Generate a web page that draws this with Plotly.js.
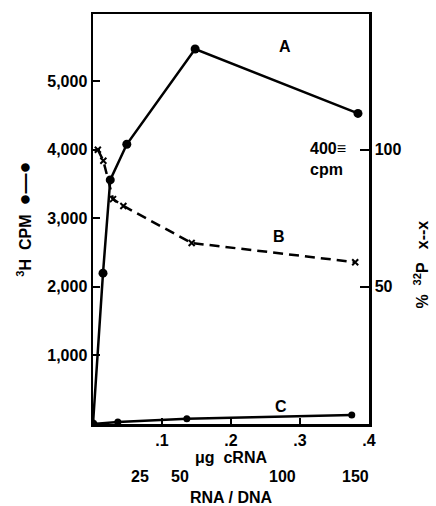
<!DOCTYPE html>
<html>
<head>
<meta charset="utf-8">
<script src="https://cdn.plot.ly/plotly-3.0.1.min.js"></script>
<style>html,body{margin:0;padding:0;background:#fff;}#chart{width:436px;height:506px;}</style>
</head>
<body>
<div id="chart"></div>
<script>
// Curve A: 3H CPM (left axis)
const aX = [0, 0.0145, 0.025, 0.049, 0.148, 0.384];
const aY = [0, 2200, 3560, 4080, 5470, 4530];
// Curve B: % 32P (right axis)
const bX = [0.007, 0.015, 0.029, 0.044, 0.143, 0.38];
const bY = [100, 96, 82, 79.5, 66, 59];
// Curve C: 3H CPM (left axis)
const cX = [0, 0.036, 0.136, 0.375];
const cY = [0, 30, 75, 130];
// axis ticks
const xTickVals = [0.1, 0.2, 0.3, 0.4];
const xTickText = ['.1', '.2', '.3', '.4'];
const yTickVals = [1000, 2000, 3000, 4000, 5000];
const yTickText = ['1,000', '2,000', '3,000', '4,000', '5,000'];
const y2TickVals = [50, 100];
const y2TickText = ['50', '100'];
// RNA/DNA ratio scale
const ratioText = ['25', '50', '100', '150'];
const ratioPos = [0.068, 0.126, 0.274, 0.38];
// curve labels
const curveLabels = ['A', 'B', 'C'];
const curveLabelX = [0.278, 0.270, 0.272];
const curveLabelY = [5500, 2730, 250];

const FONT = 'Liberation Sans, Arial, sans-serif';
const fnt = {family: FONT, size: 16, color: '#000'};

const traces = [
  {x: aX, y: aY, type: 'scatter', mode: 'lines+markers', name: 'A',
   line: {color: '#000', width: 2.5}, marker: {color: '#000', size: 9, symbol: 'circle'}},
  {x: bX, y: bY, yaxis: 'y2', type: 'scatter', mode: 'lines+markers', name: 'B',
   line: {color: '#000', width: 2.5, dash: '10px,6px'}, marker: {color: '#000', size: 6, symbol: 'x-thin', line: {width: 2, color: '#000'}}},
  {x: cX, y: cY, type: 'scatter', mode: 'lines+markers', name: 'C',
   line: {color: '#000', width: 2.5}, marker: {color: '#000', size: 7, symbol: 'circle'}}
];

const annotations = [];
ratioText.forEach((t, i) => annotations.push({
  x: ratioPos[i], xref: 'x', y: -0.128, yref: 'paper', yanchor: 'middle', text: '<b>' + t + '</b>',
  showarrow: false, font: fnt
}));
annotations.push({x: 0.5, xref: 'paper', y: -0.18, yref: 'paper', yanchor: 'middle', text: '<b>RNA / DNA</b>', showarrow: false, font: fnt});
curveLabels.forEach((t, i) => annotations.push({
  x: curveLabelX[i], y: curveLabelY[i], xref: 'x', yref: 'y', text: '<b>' + t + '</b>', showarrow: false, font: fnt
}));
annotations.push({x: 0.34, xref: 'x', y: 3860, yref: 'y', xanchor: 'center', yanchor: 'middle',
  text: '<b>400\u2261<br>cpm</b>', showarrow: false, align: 'left', font: {family: FONT, size: 16, color: '#000'}});
// right axis title, placed as in the reference
annotations.push({x: 1.19, xref: 'paper', y: 0.39, yref: 'paper', xanchor: 'center', yanchor: 'middle',
  textangle: -90, text: '<b>%  <sup>32</sup>P   x--x</b>', showarrow: false, font: fnt});

const layout = {
  width: 436, height: 506,
  margin: {l: 93, r: 67, t: 14, b: 82},
  paper_bgcolor: '#fff', plot_bgcolor: '#fff',
  showlegend: false,
  font: fnt,
  xaxis: {
    range: [0, 0.4], tickvals: xTickVals, ticktext: xTickText.map(t => '<b>' + t + '</b>'),
    ticks: 'inside', ticklen: 6, tickwidth: 2, tickcolor: '#000',
    showline: true, linewidth: 2.5, linecolor: '#000', mirror: true, showgrid: false, zeroline: false,
    tickfont: fnt,
    title: {text: '<b>\u03bcg  cRNA</b>', font: fnt, standoff: 4}
  },
  yaxis: {
    range: [0, 5980], tickvals: yTickVals, ticktext: yTickText.map(t => '<b>' + t + '</b>'),
    ticks: 'inside', ticklen: 7, tickwidth: 2, tickcolor: '#000',
    showline: true, linewidth: 2.5, linecolor: '#000', showgrid: false, zeroline: false,
    tickfont: fnt,
    title: {text: '<b><sup>3</sup>H  CPM  <span style="font-size:20px">\u25cf\u2014\u25cf</span></b>', font: fnt, standoff: 12}
  },
  yaxis2: {
    overlaying: 'y', side: 'right', range: [0, 149.5],
    tickvals: y2TickVals, ticktext: y2TickText.map(t => '<b>' + t + '</b>'),
    ticks: 'inside', ticklen: 9, tickwidth: 2, tickcolor: '#000',
    showline: true, linewidth: 2.5, linecolor: '#000', showgrid: false, zeroline: false,
    tickfont: fnt
  },
  annotations: annotations
};

Plotly.newPlot('chart', traces, layout, {displayModeBar: false, staticPlot: true});
</script>
</body>
</html>
